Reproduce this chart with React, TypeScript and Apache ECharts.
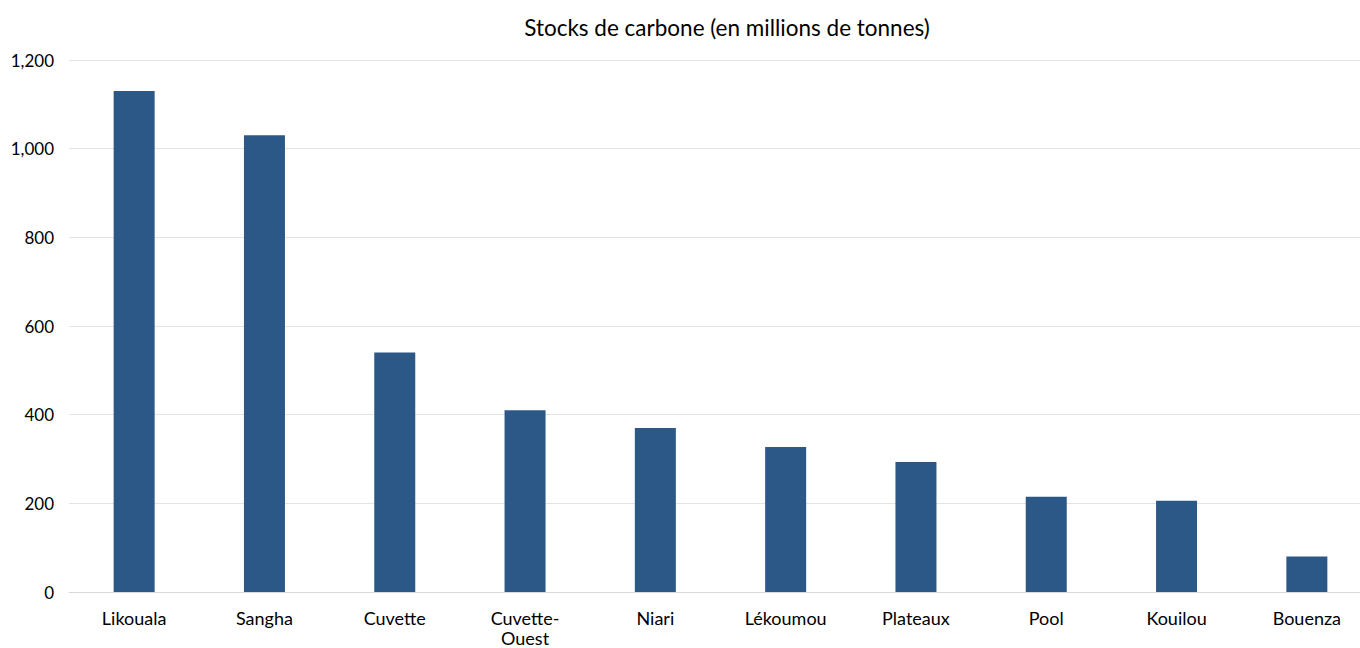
import React, { useEffect, useRef } from "react";
import * as echarts from "echarts";

const categories = ["Likouala", "Sangha", "Cuvette", "Cuvette-\nOuest", "Niari", "Lékoumou", "Plateaux", "Pool", "Kouilou", "Bouenza"];
const values = [1130, 1030, 540, 410, 370, 327, 293, 215, 206, 80];
const yTicks = { min: 0, max: 1200, interval: 200 };
const titleText = "Stocks de carbone (en millions de tonnes)";

export default function App() {
  const ref = useRef<HTMLDivElement>(null);
  useEffect(() => {
    const chart = echarts.init(ref.current!, null, { renderer: "svg" });
    const font = "Lato, 'Noto Sans', sans-serif";
    chart.setOption({
      animation: false,
      backgroundColor: "#ffffff",
      graphic: [
        {
          type: "text",
          x: 727,
          y: 27,
          style: {
            text: titleText,
            fontFamily: font,
            fontSize: 22.5,
            fill: "#000000",
            textAlign: "center",
            textVerticalAlign: "middle",
          },
        },
      ],
      grid: { left: 69, right: 8, top: 60, bottom: 53, containLabel: false },
      xAxis: {
        type: "category",
        data: categories,
        axisLine: { show: true, lineStyle: { color: "#d9d9d9", width: 1 } },
        axisTick: { show: false },
        axisLabel: {
          color: "#000000",
          fontFamily: font,
          fontSize: 18,
          margin: 16,
          interval: 0,
          lineHeight: 20,
        },
      },
      yAxis: {
        type: "value",
        min: yTicks.min,
        max: yTicks.max,
        interval: yTicks.interval,
        axisLine: { show: false },
        axisTick: { show: false },
        splitLine: { lineStyle: { color: "#e3e3e3", width: 1 } },
        axisLabel: {
          color: "#000000",
          fontFamily: font,
          fontSize: 17,
          margin: 15,
          formatter: (v: number) => v.toLocaleString("en-US"),
        },
      },
      series: [
        {
          type: "bar",
          data: values,
          barWidth: 41,
          itemStyle: { color: "#2C5887" },
        },
      ],
    });
    return () => chart.dispose();
  }, []);
  return (
    <div style={{ position: "fixed", left: 0, top: 0, width: 1360, height: 648, overflow: "hidden", background: "#fff" }}>
      <div ref={ref} style={{ width: 1380, height: 648 }} />
    </div>
  );
}
